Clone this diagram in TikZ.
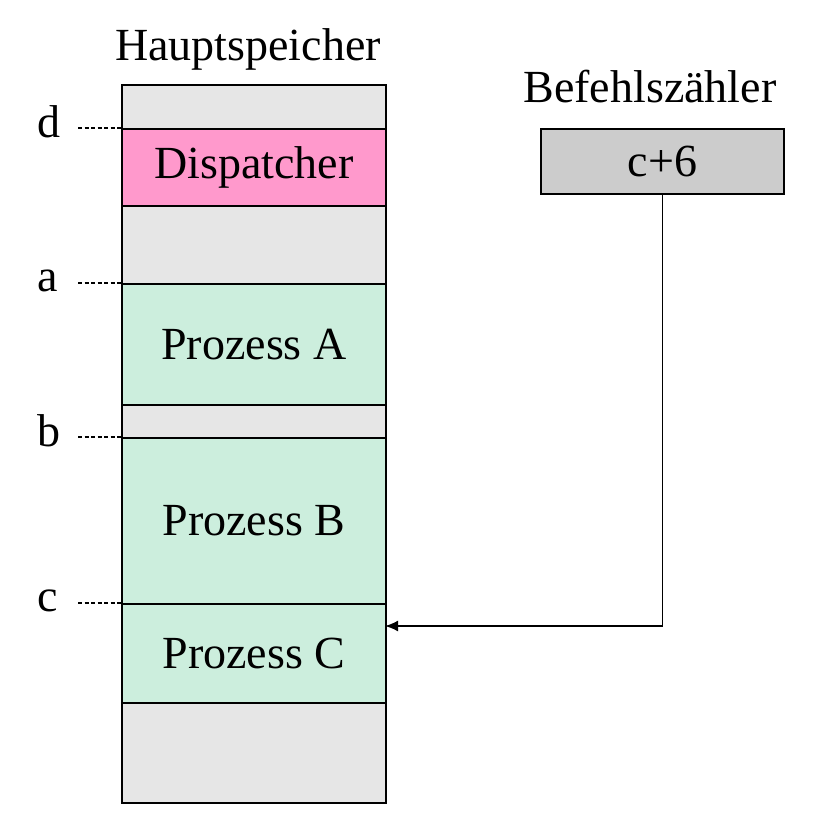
\documentclass[tikz,border=0pt]{standalone}
\usepackage{fontspec}
\setmainfont{Liberation Serif}
\usetikzlibrary{arrows.meta}
\definecolor{memgray}{HTML}{E6E6E6}
\definecolor{pinkseg}{HTML}{FF99CC}
\definecolor{greenseg}{HTML}{CCEEDD}
\definecolor{pcgray}{HTML}{CCCCCC}
\begin{document}
\begin{tikzpicture}[x=1pt,y=-1pt,
  every node/.style={font=\fontsize{46}{50}\selectfont, inner sep=0pt},
  seg/.style={draw=black, line width=1.8pt, minimum width=264pt, anchor=north west},
  addr/.style={anchor=base},
  tick/.style={dash pattern=on 4pt off 2.5pt, line width=1.3pt},
  conn/.style={line width=1.8pt, -{Latex[length=13pt,width=11pt]}}]
\useasboundingbox (0,0) rectangle (827,828);
% memory column
\node[seg, fill=memgray, minimum height=718pt] (mem) at (121,84) {};
\node[seg, fill=pinkseg, minimum height=77pt] (disp) at (121,128) {Dispatcher};
\node[seg, fill=greenseg, minimum height=121pt] (pa) at (121,283) {Prozess A};
\node[seg, fill=greenseg, minimum height=166pt] (pb) at (121,437) {Prozess B};
\node[seg, fill=greenseg, minimum height=99pt] (pcs) at (121,603) {Prozess C};
% titles
\node[anchor=base] (t1) at (248,60) {Hauptspeicher};
\node[anchor=base] (t2) at (650,102) {Befehlszähler};
% program counter
\node[draw=black, line width=1.8pt, fill=pcgray, minimum width=243pt, minimum height=65pt, anchor=north west] (pc) at (540,128) {c+6};
% address labels
\node[addr] (ld) at (49,137) {d};
\node[addr] (la) at (48,291) {a};
\node[addr] (lb) at (49,446) {b};
\node[addr] (lc) at (48,611) {c};
\coordinate (dd) at (78,128);
\coordinate (da) at (78,283);
\coordinate (db) at (78,437);
\coordinate (dc) at (78,603);
\draw[tick] (dd) -- (disp.north west);
\draw[tick] (da) -- (pa.north west);
\draw[tick] (db) -- (pb.north west);
\draw[tick] (dc) -- (pcs.north west);
% arrow
\coordinate (tgt) at (385,626);
\draw[conn] (pc.south) |- (tgt);
\end{tikzpicture}
\end{document}
